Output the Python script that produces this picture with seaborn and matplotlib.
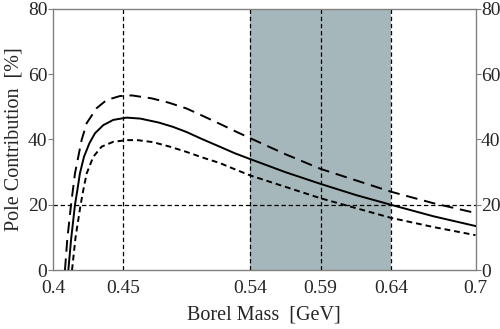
import numpy as np
import pandas as pd
import matplotlib
matplotlib.use("Agg")
import matplotlib.pyplot as plt
import seaborn as sns

# Werte
x_central = [0.4109, 0.4128, 0.4156, 0.4173, 0.4191, 0.4220, 0.4258, 0.4298, 0.4357,
             0.4428, 0.4523, 0.4620, 0.4750, 0.4850, 0.4948, 0.5060, 0.5184, 0.5290,
             0.5400, 0.5650, 0.5900, 0.6150, 0.6400, 0.6700, 0.7000]
y_central = [0.0, 9.2, 20.0, 24.5, 29.6, 34.7, 38.8, 41.9, 44.4,
             46.0, 46.7, 46.4, 45.2, 43.9, 42.3, 40.1, 37.8, 35.8,
             34.0, 30.0, 26.4, 23.0, 20.0, 16.5, 13.5]

x_upper = [0.4085, 0.4101, 0.4128, 0.4156, 0.4203, 0.4239, 0.4310, 0.4381, 0.4475,
           0.4560, 0.4700, 0.4820, 0.4948, 0.5060, 0.5184, 0.5290, 0.5400, 0.5650,
           0.5900, 0.6150, 0.6400, 0.6700, 0.7000]
y_upper = [0.0, 9.2, 20.0, 29.6, 39.8, 45.0, 49.6, 52.1, 53.3,
           53.5, 52.6, 51.3, 49.5, 47.3, 44.8, 42.6, 40.4, 35.5,
           31.0, 27.5, 24.0, 20.5, 17.5]

x_lower = [0.4135, 0.4160, 0.4196, 0.4215, 0.4239, 0.4286, 0.4345, 0.4428, 0.4523,
           0.4600, 0.4709, 0.4830, 0.4948, 0.5060, 0.5184, 0.5290, 0.5400, 0.5650,
           0.5900, 0.6150, 0.6400, 0.6700, 0.7000]
y_lower = [0.0, 10.0, 20.0, 24.5, 29.6, 34.7, 37.8, 39.3, 39.8,
           39.8, 39.2, 37.8, 36.2, 34.5, 32.8, 30.9, 29.0, 25.5,
           22.0, 19.0, 16.0, 13.2, 10.7]

x_ticks = [0.4, 0.45, 0.54, 0.59, 0.64, 0.7]
x_ticklabels = ["0.4", "0.45", "0.54", "0.59", "0.64", "0.7"]
y_ticks = [0, 20, 40, 60, 80]
band = (0.54, 0.64)
vlines = [0.45, 0.54, 0.59, 0.64]
hline = 20

sns.set_style("ticks")
plt.rcParams["font.family"] = ["Liberation Serif", "DejaVu Serif"]

fig = plt.figure(figsize=(5, 3.29), dpi=100)
ax = fig.add_axes([0.106, 0.179, 0.845, 0.794])

ax.axvspan(band[0], band[1], color="#a5b7ba", lw=0, zorder=0)
for v in vlines:
    ax.axvline(v, color="black", lw=0.9, ls=(0, (3.5, 2.2)), zorder=1)
ax.axhline(hline, color="black", lw=0.9, ls=(0, (3.5, 2.2)), zorder=1)

df_c = pd.DataFrame({"x": x_central, "y": y_central})
df_u = pd.DataFrame({"x": x_upper, "y": y_upper})
df_l = pd.DataFrame({"x": x_lower, "y": y_lower})

sns.lineplot(data=df_c, x="x", y="y", ax=ax, color="black", lw=1.4, sort=False, zorder=3)
sns.lineplot(data=df_u, x="x", y="y", ax=ax, color="black", lw=1.4, sort=False, zorder=3)
ax.lines[-1].set_dashes((6, 3.5))
sns.lineplot(data=df_l, x="x", y="y", ax=ax, color="black", lw=1.4, sort=False, zorder=3)
ax.lines[-1].set_dashes((3, 2))

ax.set_xlim(0.4, 0.7)
ax.set_ylim(0, 80)
ax.set_xticks(x_ticks)
ax.set_xticklabels(x_ticklabels)
ax.set_yticks(y_ticks)
ax.tick_params(axis="x", length=0, labelsize=14, pad=7)
ax.tick_params(axis="y", length=3.5, width=0.8, color="#808080", labelsize=14,
               right=True, labelright=True, pad=0.5)

for s in ax.spines.values():
    s.set_visible(True)
    s.set_color("#808080")
    s.set_linewidth(1.0)

ax.set_xlabel("Borel Mass  [GeV]", fontsize=14.5, labelpad=6)
ax.set_ylabel("Pole Contribution  [%]", fontsize=14.5, labelpad=3)

fig.savefig("out.png", dpi=100)
